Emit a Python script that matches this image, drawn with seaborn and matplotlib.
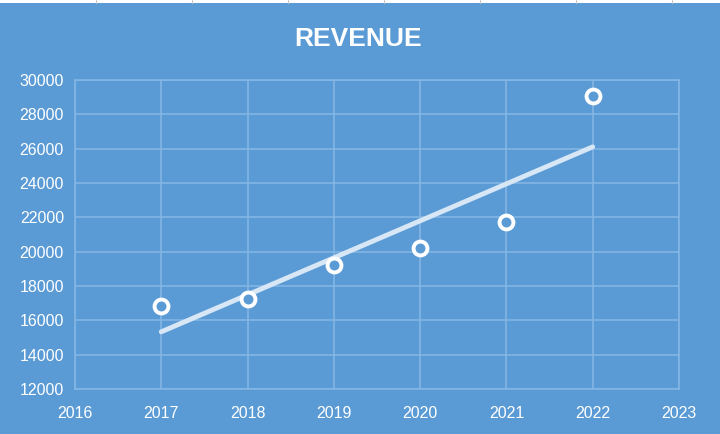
import matplotlib
matplotlib.use("Agg")
import matplotlib.pyplot as plt
from matplotlib.patches import Rectangle
import seaborn as sns
import pandas as pd

years = [2017, 2018, 2019, 2020, 2021, 2022]
revenue = [16850, 17250, 19220, 20220, 21720, 29050]
x_ticks = [2016, 2017, 2018, 2019, 2020, 2021, 2022, 2023]
y_ticks = [12000, 14000, 16000, 18000, 20000, 22000, 24000, 26000, 28000, 30000]
title = "REVENUE"

bg = "#5B9BD5"
grid = "#86B7E5"

sns.set_theme(style="white")
plt.rcParams['font.family'] = ['Liberation Sans', 'DejaVu Sans']

df = pd.DataFrame({"year": years, "revenue": revenue})

fig = plt.figure(figsize=(7.2, 4.34), dpi=100, facecolor=bg)
# spreadsheet strip at the top of the screenshot
fig.patches.append(Rectangle((0, 1-3/434), 1, 3/434, transform=fig.transFigure,
                             facecolor="white", edgecolor="none"))
for xc in range(96, 720, 96):
    fig.lines.append(plt.Line2D([xc/720, xc/720], [1-3/434, 1], transform=fig.transFigure,
                                color="#C8C8C8", lw=0.8))

ax = fig.add_axes([75/720, 1-389/434, (679-75)/720, (389-80)/434])
ax.set_facecolor(bg)

sns.regplot(data=df, x="year", y="revenue", ax=ax, scatter=False, ci=None,
            truncate=True, line_kws=dict(color="#D8E7F5", lw=3.5, solid_capstyle="round", zorder=3))
sns.scatterplot(data=df, x="year", y="revenue", ax=ax, s=100, marker="o",
                facecolor=bg, edgecolor="white", linewidth=2.8, zorder=4)

ax.set_xlim(2016, 2023)
ax.set_ylim(12000, 30000)
ax.set_xticks(x_ticks)
ax.set_yticks(y_ticks)
ax.set_xticklabels([str(t) for t in x_ticks])
ax.set_yticklabels([str(t) for t in y_ticks])
ax.grid(True, color=grid, lw=1.1)
ax.set_axisbelow(True)
for s in ax.spines.values():
    s.set_color(grid)
    s.set_linewidth(1.1)
ax.tick_params(axis="both", length=0, colors="white", labelsize=11.5)
ax.tick_params(axis="x", pad=12)
ax.tick_params(axis="y", pad=8)
ax.set_xlabel("")
ax.set_ylabel("")

fig.text(358/720, 1-39/434, title, ha="center", va="center", color="white",
         fontsize=19, fontweight="bold", family=['Liberation Sans Narrow', 'Liberation Sans', 'DejaVu Sans'])

fig.savefig("out.png", dpi=100, facecolor=bg)
